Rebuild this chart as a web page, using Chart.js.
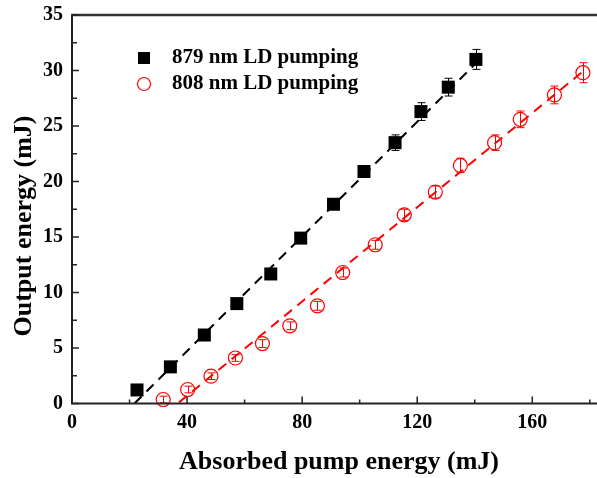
<!DOCTYPE html>
<html><head><meta charset="utf-8">
<script src="https://cdn.jsdelivr.net/npm/chart.js@4/dist/chart.umd.min.js"></script>
<style>html,body{margin:0;padding:0;background:#fff}</style>
</head><body>
<canvas id="c" width="597" height="478"></canvas>
<script>
// ---- data ----
const pump879 = [22.6, 34.2, 46.0, 57.3, 69.1, 79.5, 90.9, 101.5, 112.3, 121.3, 130.8, 140.4];
const out879  = [1.22, 3.3, 6.17, 9.0, 11.67, 14.9, 17.95, 20.9, 23.5, 26.3, 28.5, 31.0];
const err879  = [0.2, 0.2, 0.2, 0.2, 0.2, 0.25, 0.3, 0.5, 0.7, 0.8, 0.8, 0.9];
const pump808 = [31.7, 40.2, 48.3, 56.8, 66.2, 75.7, 85.3, 94.1, 105.4, 115.5, 126.3, 135.0, 146.9, 155.8, 167.7, 177.6];
const out808  = [0.36, 1.26, 2.46, 4.1, 5.4, 7.0, 8.8, 11.8, 14.3, 17.0, 19.05, 21.45, 23.5, 25.6, 27.8, 29.8];
const err808  = [0.3, 0.3, 0.3, 0.3, 0.35, 0.35, 0.4, 0.4, 0.4, 0.5, 0.55, 0.65, 0.7, 0.75, 0.8, 0.9];
const fit879X = [21.7, 141.0];
const fit879Y = [0.0, 30.8];
const fit808X = [37.2, 178.0];
const fit808Y = [0.1, 30.0];
const xTicks = [0, 40, 80, 120, 160];
const xMinor = [20, 60, 100, 140, 180];
const yTicks = [0, 5, 10, 15, 20, 25, 30, 35];
const yMinor = [2.5, 7.5, 12.5, 17.5, 22.5, 27.5, 32.5];
const legendLabels = ['879 nm LD pumping', '808 nm LD pumping'];
const xTitle = 'Absorbed pump energy (mJ)';
const yTitle = 'Output energy (mJ)';

const RED = '#ff0000';
const FONT = '"Liberation Serif", "Times New Roman", serif';

function pts(xs, ys){ return xs.map((x,i)=>({x:x, y:ys[i]})); }

const deco = {
  id: 'deco',
  beforeDatasetsDraw(chart){
    const ctx = chart.ctx, xs = chart.scales.x, ys = chart.scales.y;
    const bars = [[pump879, out879, err879, '#000'], [pump808, out808, err808, RED]];
    ctx.save();
    ctx.lineWidth = 1;
    bars.forEach(([X, Y, E, col]) => {
      ctx.strokeStyle = col;
      X.forEach((xv, i) => {
        const px = Math.round(xs.getPixelForValue(xv)) + 0.5;
        const y1 = ys.getPixelForValue(Y[i] + E[i]);
        const y2 = ys.getPixelForValue(Y[i] - E[i]);
        ctx.beginPath();
        ctx.moveTo(px, y1); ctx.lineTo(px, y2);
        ctx.moveTo(px - 4, y1); ctx.lineTo(px + 4, y1);
        ctx.moveTo(px - 4, y2); ctx.lineTo(px + 4, y2);
        ctx.stroke();
      });
    });
    ctx.restore();
  },
  afterDraw(chart){
    const ctx = chart.ctx, xs = chart.scales.x, ys = chart.scales.y;
    const a = chart.chartArea;
    ctx.save();
    // frame: left, bottom, top
    ctx.strokeStyle = '#222';
    ctx.lineWidth = 2;
    ctx.beginPath();
    ctx.moveTo(a.left, a.top); ctx.lineTo(a.left, a.bottom); ctx.lineTo(a.right, a.bottom);
    ctx.stroke();
    ctx.strokeStyle = '#333';
    ctx.lineWidth = 2.5;
    ctx.beginPath();
    ctx.moveTo(a.left - 1, a.top); ctx.lineTo(a.right, a.top);
    ctx.stroke();
    // inward ticks
    ctx.strokeStyle = '#222';
    ctx.lineWidth = 1.5;
    ctx.beginPath();
    xTicks.forEach(v => { const p = xs.getPixelForValue(v); ctx.moveTo(p, a.bottom); ctx.lineTo(p, a.bottom - 7); });
    xMinor.forEach(v => { const p = xs.getPixelForValue(v); ctx.moveTo(p, a.bottom); ctx.lineTo(p, a.bottom - 4); });
    yTicks.forEach(v => { const p = ys.getPixelForValue(v); ctx.moveTo(a.left, p); ctx.lineTo(a.left + 7, p); });
    yMinor.forEach(v => { const p = ys.getPixelForValue(v); ctx.moveTo(a.left, p); ctx.lineTo(a.left + 5, p); });
    ctx.stroke();
    // legend
    ctx.fillStyle = '#000';
    ctx.fillRect(138, 52, 12, 12);
    ctx.strokeStyle = RED;
    ctx.lineWidth = 1.2;
    ctx.beginPath(); ctx.arc(144, 84, 6.5, 0, Math.PI * 2); ctx.stroke();
    ctx.fillStyle = '#000';
    ctx.font = 'bold 21px ' + FONT;
    ctx.textAlign = 'left';
    ctx.textBaseline = 'middle';
    ctx.fillText(legendLabels[0], 172, 58);
    ctx.fillText(legendLabels[1], 172, 84);
    // axis titles
    ctx.font = 'bold 26px ' + FONT;
    ctx.textAlign = 'center';
    ctx.fillText(xTitle, 339, 462);
    ctx.save();
    ctx.translate(24, 226);
    ctx.rotate(-Math.PI / 2);
    ctx.fillText(yTitle, 0, 0);
    ctx.restore();
    ctx.restore();
  }
};

new Chart(document.getElementById('c'), {
  type: 'scatter',
  data: {
    datasets: [
      { label: legendLabels[0], data: pts(pump879, out879), pointStyle: 'rect', pointRadius: 9.2,
        backgroundColor: '#000', borderColor: '#000', borderWidth: 0, showLine: false, order: 1, clip: false },
      { label: legendLabels[1], data: pts(pump808, out808), pointStyle: 'circle', pointRadius: 7,
        backgroundColor: 'rgba(0,0,0,0)', borderColor: RED, borderWidth: 1.2, showLine: false, order: 2, clip: false },
      { label: 'fit879', data: pts(fit879X, fit879Y), showLine: true, pointRadius: 0, borderColor: '#000',
        borderWidth: 2, borderDash: [10, 7], order: 3, clip: false },
      { label: 'fit808', data: pts(fit808X, fit808Y), showLine: true, pointRadius: 0, borderColor: RED,
        borderWidth: 2, borderDash: [10, 7], order: 4, clip: false }
    ]
  },
  options: {
    responsive: false,
    animation: false,
    devicePixelRatio: 1,
    layout: { autoPadding: false, padding: { top: 15, right: 0, left: 0, bottom: 0 } },
    plugins: { legend: { display: false }, tooltip: { enabled: false } },
    scales: {
      x: {
        type: 'linear', min: 0, max: 182.5,
        afterBuildTicks: s => { s.ticks = xTicks.map(v => ({ value: v })); },
        afterFit: s => { s.height = 74.5; s.paddingLeft = 0; s.paddingRight = 0; },
        grid: { display: false, drawTicks: false },
        border: { display: false },
        ticks: { padding: 7, color: '#000', font: { family: FONT, size: 20, weight: 'bold' }, maxRotation: 0 }
      },
      y: {
        type: 'linear', min: 0, max: 35,
        afterBuildTicks: s => { s.ticks = yTicks.map(v => ({ value: v })); },
        afterFit: s => { s.width = 72; s.paddingTop = 0; s.paddingBottom = 0; },
        grid: { display: false, drawTicks: false },
        border: { display: false },
        ticks: { padding: 9, color: '#000', font: { family: FONT, size: 20, weight: 'bold' } }
      }
    }
  },
  plugins: [deco]
});
</script>
</body></html>
